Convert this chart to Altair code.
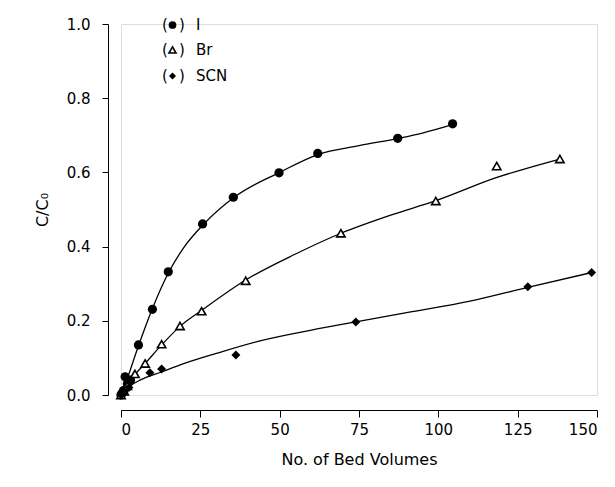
import altair as alt
import pandas as pd

# ---- measured points ----
i_x = [0.0, 0.3, 0.8, 1.3, 2.0, 3.0, 5.5, 9.9, 14.9, 25.7, 35.4, 49.8, 62.0, 87.2, 104.5]
i_y = [0.0, 0.005, 0.012, 0.049, 0.03, 0.04, 0.135, 0.231, 0.332, 0.461, 0.533, 0.599, 0.651, 0.692, 0.731]

br_x = [0.0, 1.0, 2.0, 4.4, 7.6, 12.8, 18.6, 25.4, 39.3, 69.3, 99.2, 118.4, 138.3]
br_y = [0.0, 0.01, 0.025, 0.057, 0.085, 0.137, 0.186, 0.226, 0.308, 0.436, 0.523, 0.617, 0.636]

scn_x = [0.0, 1.0, 2.5, 9.1, 12.8, 36.2, 74.0, 128.2, 148.3]
scn_y = [0.0, 0.008, 0.02, 0.06, 0.07, 0.108, 0.197, 0.292, 0.33]

# ---- fitted curves ----
ic_x = [0, 2, 5, 10, 15, 20, 26, 36, 50, 62, 75, 87.5, 95, 105]
ic_y = [0, 0.045, 0.12, 0.235, 0.33, 0.40, 0.46, 0.535, 0.60, 0.648, 0.672, 0.692, 0.706, 0.73]

brc_x = [0, 4.4, 7.6, 12.8, 18.6, 25.4, 39.3, 55, 69.3, 85, 99, 118, 138.3]
brc_y = [0, 0.055, 0.085, 0.135, 0.185, 0.228, 0.31, 0.38, 0.436, 0.485, 0.523, 0.585, 0.636]

scnc_x = [0, 3, 6, 12.8, 20, 30, 43.8, 60, 74, 90, 110, 128.2, 148.3]
scnc_y = [0, 0.025, 0.04, 0.062, 0.085, 0.112, 0.146, 0.175, 0.197, 0.222, 0.253, 0.29, 0.33]

x_ticks = [0, 25, 50, 75, 100, 125, 150]
y_ticks = [0.0, 0.2, 0.4, 0.6, 0.8, 1.0]
legend_labels = ["I", "Br", "SCN"]

FONT = "DejaVu Sans"

xs = alt.Scale(domain=[0, 150], nice=False, zero=False)
ys = alt.Scale(domain=[0, 1], nice=False, zero=False)

xax = alt.Axis(values=x_ticks, title="No. of Bed Volumes", offset=15, grid=False,
               tickSize=7, labelPadding=5, titlePadding=14, domainColor="black",
               tickColor="black", labelColor="black", titleColor="black",
               labelFontSize=15, titleFontSize=16, titleFontWeight="normal",
               labelFont=FONT, titleFont=FONT)
yax = alt.Axis(values=y_ticks, format=".1f", title="C/C\u2080", offset=13, grid=False,
               tickSize=6, labelPadding=12, titlePadding=16, domainColor="black",
               tickColor="black", labelColor="black", titleColor="black",
               labelFontSize=15, titleFontSize=16, titleFontWeight="normal",
               labelFont=FONT, titleFont=FONT)

def curve(xv, yv):
    df = pd.DataFrame({"x": xv, "y": yv})
    return alt.Chart(df).mark_line(color="black", strokeWidth=1.3, interpolate="monotone").encode(
        x=alt.X("x:Q", scale=xs, axis=xax), y=alt.Y("y:Q", scale=ys, axis=yax))

def pts(xv, yv, **kw):
    df = pd.DataFrame({"x": xv, "y": yv})
    return alt.Chart(df).mark_point(**kw).encode(
        x=alt.X("x:Q", scale=xs, axis=xax), y=alt.Y("y:Q", scale=ys, axis=yax))

circle_style = dict(shape="circle", filled=True, color="black", opacity=1)
tri_style = dict(shape="triangle-up", filled=True, fill="white", stroke="black",
                 strokeWidth=1.6, opacity=1)
dia_style = dict(shape="diamond", filled=True, color="black", opacity=1)

layers = [
    curve(ic_x, ic_y), curve(brc_x, brc_y), curve(scnc_x, scnc_y),
    pts(i_x, i_y, size=85, **circle_style),
    pts(br_x, br_y, size=70, **tri_style),
    pts(scn_x, scn_y, size=80, **dia_style),
]

# legend: "(" symbol ")" label
leg_y = [1, 26, 52]
leg_styles = [dict(size=60, **circle_style), dict(size=50, **tri_style), dict(size=50, **dia_style)]
one = pd.DataFrame({"k": [0]})
for lab, yy, st in zip(legend_labels, leg_y, leg_styles):
    txt = dict(baseline="middle", font=FONT, fontSize=15, color="black")
    layers.append(alt.Chart(pd.DataFrame({"t": ["("]})).mark_text(align="left", **txt)
                  .encode(text="t:N", x=alt.value(41), y=alt.value(yy)))
    layers.append(alt.Chart(one).mark_point(**st).encode(x=alt.value(51.5), y=alt.value(yy)))
    layers.append(alt.Chart(pd.DataFrame({"t": [")"]})).mark_text(align="left", **txt)
                  .encode(text="t:N", x=alt.value(58), y=alt.value(yy)))
    layers.append(alt.Chart(pd.DataFrame({"t": [lab]})).mark_text(align="left", **txt)
                  .encode(text="t:N", x=alt.value(75), y=alt.value(yy)))

chart = alt.layer(*layers).properties(
    width=476, height=371,
    autosize=alt.AutoSizeParams(type="none"),
    padding={"left": 113, "top": 16, "right": 10, "bottom": 80},
).configure_view(stroke=None).configure(background="white")

chart.save("out.html", embed_options={"renderer": "svg", "actions": False})
